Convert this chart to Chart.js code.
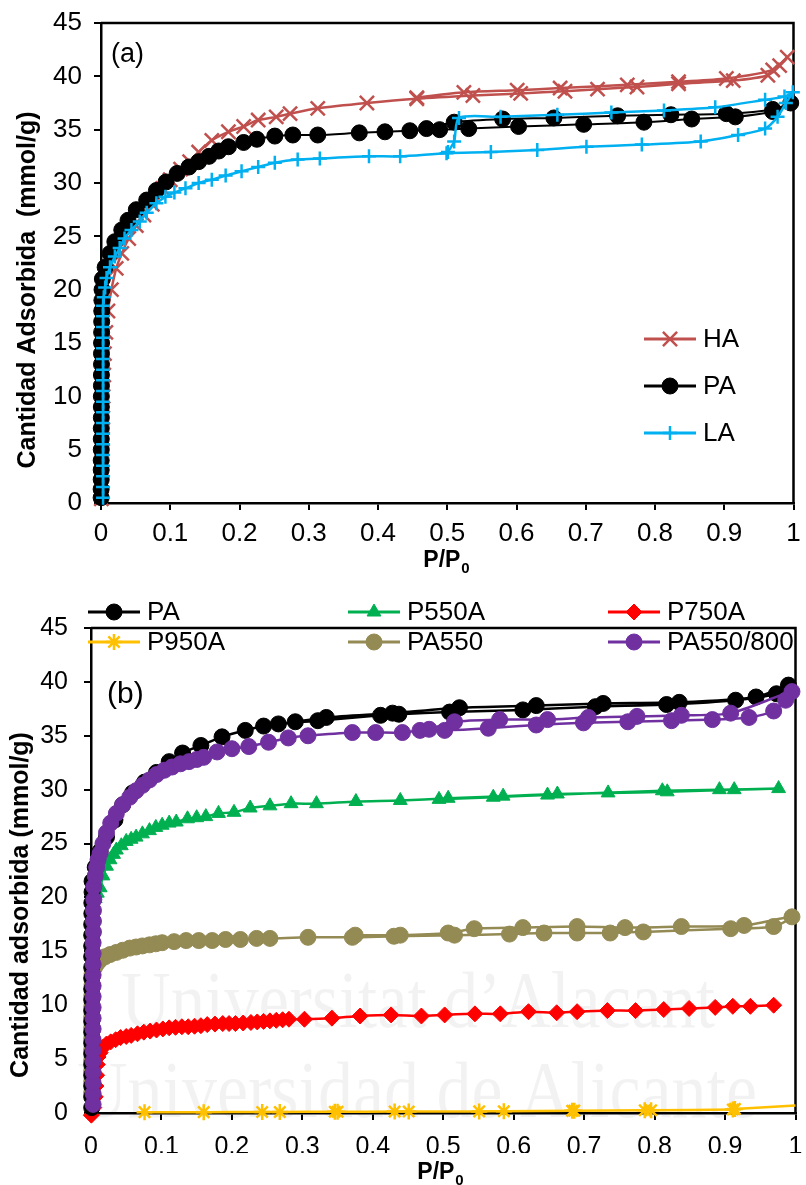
<!DOCTYPE html>
<html>
<head>
<meta charset="utf-8">
<script src="https://cdn.jsdelivr.net/npm/chart.js@4.4.0/dist/chart.umd.min.js"></script>
<style>
  body { margin: 0; background: #fff; }
  canvas { display: block; }
</style>
</head>
<body>
<canvas id="chartA" width="806" height="590"></canvas>
<canvas id="chartB" width="806" height="595"></canvas>
<script>
// isotherm points as [P/P0, mmol/g], adsorption branch then desorption branch
const xTicks = [0, 0.1, 0.2, 0.3, 0.4, 0.5, 0.6, 0.7, 0.8, 0.9, 1];
const yTicks = [0, 5, 10, 15, 20, 25, 30, 35, 40, 45];

// panel (a)
const haA = [[0.0005,0.4],[0.001,2],[0.0015,4],[0.002,6],[0.0025,8],[0.003,10],[0.004,12],[0.005,14],
  [0.007,16],[0.01,18],[0.015,20.0],[0.022,22.0],[0.03,23.4],[0.04,24.8],[0.051,26.0],[0.062,27.0],
  [0.074,28.0],[0.089,29.5],[0.1,30.3],[0.115,31.3],[0.128,32.0],[0.141,32.9],[0.16,34.0],[0.184,34.8],
  [0.206,35.3],[0.227,35.9],[0.253,36.2],[0.273,36.5],[0.313,37.0],[0.384,37.5],[0.456,37.9],[0.537,38.2],
  [0.606,38.4],[0.67,38.6],[0.717,38.8],[0.774,39.0],[0.834,39.3],[0.913,39.6],[0.963,40.1],[0.98,41.0],
  [0.991,41.8],[0.97,40.6],[0.903,39.8],[0.834,39.5],[0.76,39.2],[0.663,38.9],[0.601,38.7],[0.524,38.5],[0.456,38.0]];
const paA = [[0.0002,0.5],[0.0002,1.3],[0.0003,2.2],[0.0003,3.1],[0.0003,4],[0.0004,5],[0.0004,6],[0.0004,7],
  [0.0005,8],[0.0005,9],[0.0005,10],[0.0006,11],[0.0006,12],[0.0007,13],[0.0007,14],[0.0008,15],[0.0009,16],
  [0.001,17],[0.0011,18],[0.0013,19],[0.0015,20],[0.002,21],[0.006,22.1],[0.013,23.4],[0.02,24.5],[0.03,25.6],
  [0.039,26.5],[0.051,27.5],[0.066,28.4],[0.08,29.3],[0.094,30.1],[0.11,30.9],[0.127,31.5],[0.141,32.0],
  [0.156,32.5],[0.17,33.0],[0.184,33.4],[0.206,33.8],[0.225,34.1],[0.251,34.4],[0.277,34.5],[0.313,34.5],
  [0.373,34.7],[0.41,34.8],[0.446,34.9],[0.489,35.0],[0.531,35.1],[0.603,35.3],[0.697,35.5],[0.784,35.7],
  [0.853,36.0],[0.916,36.2],[0.97,36.7],[0.996,37.5],[0.97,36.9],[0.903,36.5],[0.823,36.4],[0.746,36.3],
  [0.654,36.1],[0.58,36.0],[0.51,35.7],[0.47,35.1]];
const laA = [[0.003,0.5],[0.003,1.5],[0.003,2.5],[0.003,3.5],[0.003,4.5],[0.003,5.5],[0.003,6.5],[0.003,7.5],
  [0.003,8.5],[0.003,9.5],[0.003,10.5],[0.003,11.5],[0.003,12.5],[0.003,13.5],[0.003,14.5],[0.003,15.5],
  [0.003,16.5],[0.003,17.5],[0.003,18.5],[0.004,19.3],[0.006,20.2],[0.008,21.1],[0.013,22.1],[0.02,23.1],
  [0.027,23.9],[0.034,24.8],[0.044,25.6],[0.056,26.4],[0.066,27.2],[0.08,28.1],[0.093,28.7],[0.106,29.1],
  [0.122,29.5],[0.141,30.0],[0.16,30.3],[0.18,30.7],[0.203,31.1],[0.227,31.5],[0.251,31.9],[0.284,32.2],
  [0.316,32.3],[0.387,32.5],[0.432,32.5],[0.499,32.8],[0.563,32.9],[0.63,33.1],[0.701,33.4],[0.781,33.6],
  [0.866,33.9],[0.92,34.5],[0.959,35.1],[0.977,36.2],[0.989,37.5],[0.999,38.5],[0.987,38.1],[0.959,37.8],
  [0.887,37.1],[0.813,36.8],[0.737,36.6],[0.659,36.4],[0.577,36.2],[0.517,36.1],[0.51,33.9],[0.501,32.9]];

// panel (b)
const paB = [[0.001,0.5],[0.001,1.5],[0.001,2.5],[0.001,3.5],[0.001,4.5],[0.001,5.5],[0.001,6.5],[0.001,7.5],
  [0.001,8.5],[0.001,9.5],[0.001,10.5],[0.001,11.5],[0.001,12.5],[0.001,13.5],[0.001,14.5],[0.001,15.5],
  [0.001,16.5],[0.001,17.5],[0.0012,18.5],[0.0012,19.5],[0.0015,20.5],[0.0015,21.5],[0.006,22.8],[0.013,24.3],
  [0.022,25.6],[0.034,27.2],[0.045,28.6],[0.059,29.7],[0.076,30.7],[0.093,31.6],[0.111,32.6],[0.13,33.4],
  [0.156,34.1],[0.186,34.9],[0.219,35.5],[0.245,35.9],[0.266,36.1],[0.322,36.4],[0.411,36.9],[0.437,37.0],
  [0.509,37.2],[0.613,37.4],[0.716,37.7],[0.817,37.9],[0.915,38.3],[0.973,38.9],[0.99,39.7],[0.944,38.6],
  [0.835,38.1],[0.727,38.0],[0.632,37.8],[0.523,37.6],[0.428,37.1],[0.334,36.7],[0.29,36.3]];
const p550A = [[0.001,0.5],[0.001,1.5],[0.001,2.5],[0.001,3.5],[0.001,4.5],[0.001,5.5],[0.001,6.5],[0.001,7.5],
  [0.001,8.5],[0.001,9.5],[0.001,10.5],[0.001,11.5],[0.0015,12.5],[0.0015,13.5],[0.0015,14.5],[0.0015,15.5],
  [0.002,16.5],[0.002,17.5],[0.002,18.5],[0.003,19.5],[0.006,19.9],[0.009,20.4],[0.013,20.9],[0.017,22.0],
  [0.022,22.9],[0.027,23.5],[0.032,24.0],[0.036,24.4],[0.043,24.8],[0.05,25.2],[0.057,25.4],[0.064,25.6],
  [0.073,25.9],[0.083,26.2],[0.092,26.5],[0.101,26.7],[0.111,26.9],[0.121,27.0],[0.137,27.3],[0.15,27.4],
  [0.163,27.5],[0.181,27.8],[0.203,27.9],[0.226,28.3],[0.254,28.5],[0.284,28.7],[0.32,28.7],[0.376,28.9],
  [0.439,29.0],[0.507,29.2],[0.585,29.4],[0.662,29.6],[0.734,29.7],[0.818,29.8],[0.913,30.0],[0.976,30.1],
  [0.892,30.0],[0.811,29.9],[0.648,29.5],[0.571,29.3],[0.494,29.1]];
const p750A = [[0.0005,-0.2],[0.004,0.5],[0.006,1.5],[0.007,2.5],[0.008,3.5],[0.009,4.5],[0.01,5.2],[0.013,5.6],
  [0.017,6.1],[0.022,6.4],[0.028,6.6],[0.035,6.8],[0.042,7.0],[0.05,7.1],[0.057,7.2],[0.066,7.35],[0.075,7.5],
  [0.084,7.6],[0.093,7.7],[0.102,7.8],[0.111,7.9],[0.12,7.95],[0.129,8.0],[0.138,8.0],[0.147,8.05],[0.156,8.1],
  [0.165,8.2],[0.176,8.25],[0.187,8.3],[0.196,8.3],[0.205,8.3],[0.216,8.35],[0.227,8.4],[0.236,8.45],
  [0.245,8.5],[0.254,8.55],[0.263,8.6],[0.272,8.65],[0.281,8.7],[0.303,8.7],[0.342,8.8],[0.382,9.0],
  [0.426,9.1],[0.469,9.0],[0.502,9.1],[0.545,9.2],[0.581,9.2],[0.621,9.4],[0.661,9.3],[0.69,9.4],[0.733,9.5],
  [0.773,9.5],[0.813,9.6],[0.849,9.7],[0.886,9.8],[0.911,9.9],[0.936,9.9],[0.969,10.0]];
const p950A = [[0.076,0.08],[0.16,0.08],[0.243,0.1],[0.268,0.1],[0.346,0.12],[0.35,0.12],[0.431,0.13],
  [0.451,0.14],[0.551,0.15],[0.586,0.16],[0.683,0.2],[0.686,0.22],[0.786,0.25],[0.795,0.26],[0.911,0.32],
  [0.914,0.38],[1.0,0.7]];
const pa550 = [[0.001,1.9],[0.001,2.9],[0.001,3.9],[0.001,4.9],[0.001,5.9],[0.001,6.9],[0.001,7.9],[0.001,8.9],
  [0.0012,9.9],[0.0012,10.9],[0.0015,11.9],[0.0015,12.9],[0.005,13.5],[0.009,13.9],[0.013,14.2],[0.02,14.5],
  [0.027,14.7],[0.036,14.9],[0.045,15.1],[0.055,15.3],[0.064,15.4],[0.073,15.5],[0.083,15.6],[0.092,15.7],
  [0.101,15.8],[0.118,15.9],[0.135,16.0],[0.153,16.0],[0.172,16.0],[0.191,16.1],[0.212,16.1],[0.235,16.2],
  [0.254,16.2],[0.308,16.3],[0.371,16.3],[0.43,16.4],[0.516,16.5],[0.594,16.6],[0.643,16.7],[0.69,16.7],
  [0.737,16.7],[0.784,16.8],[0.908,17.1],[0.969,17.3],[0.995,18.2],[0.927,17.4],[0.838,17.3],[0.758,17.2],
  [0.69,17.3],[0.613,17.2],[0.544,17.1],[0.507,16.7],[0.439,16.5],[0.375,16.5]];
const pa550800 = [[0.003,0.8],[0.003,1.8],[0.003,2.8],[0.003,3.8],[0.003,4.8],[0.003,5.8],[0.003,6.8],
  [0.003,7.8],[0.003,8.8],[0.003,9.8],[0.003,10.8],[0.003,11.8],[0.003,12.8],[0.003,13.8],[0.003,14.8],
  [0.003,15.8],[0.0035,16.8],[0.0035,17.8],[0.0035,18.8],[0.004,19.8],[0.004,21],[0.006,22.0],[0.008,22.8],
  [0.01,23.5],[0.013,24.1],[0.017,25.0],[0.022,26.0],[0.028,26.9],[0.036,27.8],[0.045,28.6],[0.055,29.3],
  [0.064,29.9],[0.073,30.4],[0.083,30.9],[0.093,31.4],[0.104,31.8],[0.115,32.1],[0.127,32.4],[0.139,32.6],
  [0.15,32.8],[0.16,33.0],[0.179,33.5],[0.2,33.8],[0.224,34.0],[0.252,34.4],[0.28,34.8],[0.308,35.0],
  [0.371,35.3],[0.404,35.3],[0.442,35.3],[0.467,35.5],[0.502,35.5],[0.564,35.7],[0.632,36.0],[0.699,36.2],
  [0.762,36.3],[0.824,36.4],[0.882,36.5],[0.934,36.7],[0.969,37.3],[0.986,38.3],[0.995,39.1],[0.908,37.1],
  [0.838,36.9],[0.775,36.8],[0.706,36.7],[0.648,36.5],[0.58,36.5],[0.516,36.3],[0.48,35.6]];

const FONT = "'Liberation Sans', Arial, sans-serif";
const pts = arr => arr.map(([x, y]) => ({ x, y }));

function series(label, data, color, style, radius, opts = {}) {
  const filled = style === 'circle' || style === 'triangle' || style === 'rectRot';
  return Object.assign({
    label, data: pts(data), showLine: true, tension: 0.25, clip: false,
    borderColor: color, backgroundColor: color, borderWidth: 2.5,
    pointStyle: style, pointRadius: radius, pointHoverRadius: radius, markerSize: radius,
    pointBackgroundColor: color, pointBorderColor: color,
    pointBorderWidth: filled ? 1 : 2.5
  }, opts);
}

function axes(tickSize, yPad, xPad, yWidth) {
  const fmt = v => v.toFixed(1).replace(/\.0$/, '');
  return {
    x: {
      type: 'linear', min: 0, max: 1,
      afterBuildTicks: s => { s.ticks = xTicks.map(value => ({ value })); },
      ticks: { color: '#000', font: { family: FONT, size: tickSize }, padding: xPad,
               maxRotation: 0, autoSkip: false, callback: fmt },
      grid: { drawOnChartArea: false, tickLength: 7, color: '#000', lineWidth: 2 },
      border: { color: '#000', width: 2.5 },
      afterFit: s => { s.height = 40; s.paddingLeft = 0; s.paddingRight = 0; }
    },
    y: {
      min: 0, max: 45,
      afterBuildTicks: s => { s.ticks = yTicks.map(value => ({ value })); },
      ticks: { color: '#000', font: { family: FONT, size: tickSize }, padding: yPad },
      grid: { drawOnChartArea: false, tickLength: 7, color: '#000', lineWidth: 2 },
      border: { color: '#000', width: 2.5 },
      afterFit: s => { s.width = yWidth; s.paddingTop = 0; s.paddingBottom = 0; }
    }
  };
}

// frame, titles, panel letter and legend
function decor(cfg) {
  return {
    id: 'decor',
    beforeDraw(chart) {
      if (!cfg.watermark) return;
      const ctx = chart.ctx;
      ctx.save();
      ctx.fillStyle = 'rgba(0,0,0,0.05)';
      ctx.font = "80px 'Liberation Serif', 'DejaVu Serif', serif";
      ctx.textBaseline = 'alphabetic';
      cfg.watermark.forEach(w => ctx.fillText(w.text, w.x, w.y, w.w));
      ctx.restore();
    },
    beforeDatasetsDraw(chart) {
      const { ctx, chartArea: a } = chart;
      ctx.save();
      ctx.strokeStyle = '#000';
      ctx.lineWidth = 2.5;
      ctx.beginPath();
      ctx.moveTo(a.left, a.top);
      ctx.lineTo(a.right, a.top);
      ctx.lineTo(a.right, a.bottom);
      ctx.stroke();

      ctx.fillStyle = '#000';
      // y title
      ctx.save();
      ctx.translate(cfg.yTitle.x, cfg.yTitle.y);
      ctx.rotate(-Math.PI / 2);
      ctx.font = `bold ${cfg.yTitle.size}px ${FONT}`;
      ctx.textAlign = 'center';
      ctx.textBaseline = 'middle';
      ctx.fillText(cfg.yTitle.text, 0, 0);
      ctx.restore();

      // x title P/P0 with subscript
      ctx.font = `bold 23px ${FONT}`;
      const w1 = ctx.measureText('P/P').width;
      ctx.font = `bold 15px ${FONT}`;
      const w2 = ctx.measureText('0').width;
      const x0 = cfg.xTitle.x - (w1 + w2) / 2;
      ctx.textAlign = 'left';
      ctx.textBaseline = 'alphabetic';
      ctx.font = `bold 23px ${FONT}`;
      ctx.fillText('P/P', x0, cfg.xTitle.y);
      ctx.font = `bold 15px ${FONT}`;
      ctx.fillText('0', x0 + w1 + 1, cfg.xTitle.y + 6);

      // panel letter
      ctx.font = `${cfg.panel.size}px ${FONT}`;
      ctx.textBaseline = 'middle';
      ctx.fillText(cfg.panel.text, cfg.panel.x, cfg.panel.y);
      ctx.restore();
    },
    afterDatasetsDraw(chart) {
      const ctx = chart.ctx;
      ctx.save();
      ctx.font = `26px ${FONT}`;
      ctx.textBaseline = 'middle';
      ctx.textAlign = 'left';
      cfg.legend.forEach(item => {
        const ds = chart.data.datasets[item.i];
        ctx.strokeStyle = ds.borderColor;
        ctx.fillStyle = ds.borderColor;
        ctx.lineWidth = 3;
        ctx.beginPath();
        ctx.moveTo(item.x, item.y);
        ctx.lineTo(item.x + 52, item.y);
        ctx.stroke();
        ctx.lineWidth = ds.pointBorderWidth;
        Chart.helpers.drawPoint(ctx, { pointStyle: ds.pointStyle, radius: ds.markerSize,
          borderWidth: ds.pointBorderWidth, rotation: 0 }, item.x + 26, item.y);
        ctx.fillStyle = '#000';
        ctx.fillText(ds.label, item.x + 59, item.y + 1);
      });
      ctx.restore();
    }
  };
}

const common = {
  responsive: false, animation: false, devicePixelRatio: 1,
  plugins: { legend: { display: false }, tooltip: { enabled: false } }
};

// (a) drawn top to bottom: LA over PA over HA
new Chart(document.getElementById('chartA'), {
  type: 'scatter',
  data: {
    datasets: [
      series('LA', laA, '#00B0F0', 'cross', 7),
      series('PA', paA, '#000000', 'circle', 8, { borderWidth: 2 }),
      series('HA', haA, '#C0504D', 'crossRot', 10)
    ]
  },
  options: Object.assign({}, common, {
    layout: { padding: { left: 0, right: 5, top: 23, bottom: 47 } },
    scales: axes(26, 12, 8, 101)
  }),
  plugins: [decor({
    yTitle: { text: 'Cantidad Adsorbida  (mmol/g)', x: 28, y: 290, size: 25 },
    xTitle: { x: 446, y: 567 },
    panel: { text: '(a)', x: 111, y: 55, size: 27 },
    legend: [{ i: 2, x: 644, y: 339 }, { i: 1, x: 644, y: 386 }, { i: 0, x: 644, y: 433 }]
  })]
});

// (b) purple on top, then black, green, red, olive, yellow
new Chart(document.getElementById('chartB'), {
  type: 'scatter',
  data: {
    datasets: [
      series('PA550/800', pa550800, '#7030A0', 'circle', 8),
      series('PA', paB, '#000000', 'circle', 8),
      series('P550A', p550A, '#00B050', 'triangle', 8),
      series('P750A', p750A, '#FF0000', 'rectRot', 8),
      series('PA550', pa550, '#948A54', 'circle', 8),
      series('P950A', p950A, '#FFC000', 'star', 8, {
        pointRadius: c => (c.dataIndex === p950A.length - 1 ? 0 : 8)
      })
    ]
  },
  options: Object.assign({}, common, {
    layout: { padding: { left: 0, right: 4, top: 38, bottom: 32 } },
    scales: axes(25, 16, 12, 91)
  }),
  plugins: [decor({
    yTitle: { text: 'Cantidad adsorbida (mmol/g)', x: 21, y: 315, size: 25 },
    xTitle: { x: 440, y: 589 },
    panel: { text: '(b)', x: 107, y: 105, size: 30 },
    watermark: [
      { text: 'Universitat d\u2019Alacant', x: 121, y: 437, w: 594 },
      { text: 'Universidad de Alicante', x: 77, y: 527, w: 680 }
    ],
    legend: [
      { i: 1, x: 88, y: 22 }, { i: 2, x: 348, y: 22 }, { i: 3, x: 608, y: 22 },
      { i: 5, x: 88, y: 52 }, { i: 4, x: 348, y: 52 }, { i: 0, x: 608, y: 52 }
    ]
  })]
});
</script>
</body>
</html>
